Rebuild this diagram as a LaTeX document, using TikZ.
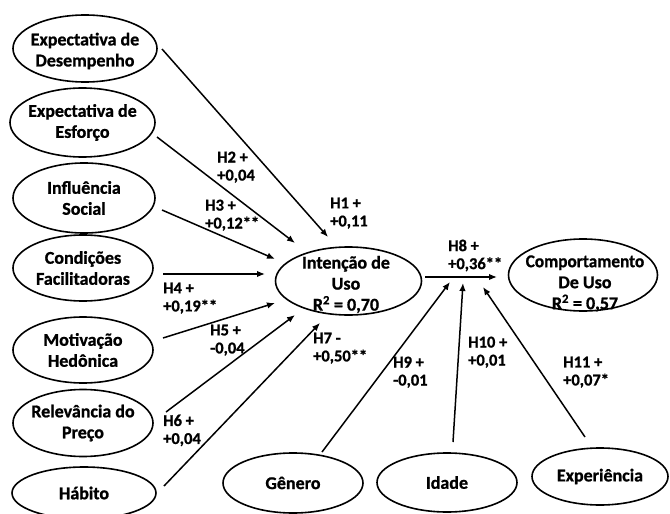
\documentclass[tikz,border=0pt]{standalone}
\usepackage{fontspec}
\setmainfont{Carlito}[BoldFeatures={FakeBold=1}]
\usetikzlibrary{arrows.meta,shapes.geometric}
\begin{document}
\begin{tikzpicture}[x=1pt,y=-1pt,
  ell/.style={draw,ellipse,line width=1.6pt,inner sep=0pt},
  etxt/.style={inner sep=0pt,align=center,font=\fontsize{18}{21}\selectfont\bfseries},
  arr/.style={line width=1.5pt,-{Latex[length=8pt,width=6.5pt]}},
  lbl/.style={anchor=north west,inner sep=0pt,align=left,font=\fontsize{16.5}{18}\selectfont\bfseries}]
\useasboundingbox (0,0) rectangle (670,514);
\fill[white] (0,0) rectangle (670,514);
% left constructs
\node[ell,minimum width=144pt,minimum height=67pt] (de) at (85,48.5) {};
\node[etxt] at (85,51) {Expectativa de\\Desempenho};
\node[ell,minimum width=145pt,minimum height=69pt] (ee) at (82.5,122.5) {};
\node[etxt] at (ee) {Expectativa de\\Esforço};
\node[ell,minimum width=142pt,minimum height=70pt] (is) at (84,198) {};
\node[etxt] at (is) {Influência\\Social};
\node[ell,minimum width=140pt,minimum height=66pt] (cf) at (83,268) {};
\node[etxt] at (cf) {Condições\\Facilitadoras};
\node[ell,minimum width=140pt,minimum height=66pt] (mh) at (83,350) {};
\node[etxt] at (mh) {Motivação\\Hedônica};
\node[ell,minimum width=140pt,minimum height=67pt] (rp) at (83,423) {};
\node[etxt] at (rp) {Relevância do\\Preço};
\node[ell,minimum width=144pt,minimum height=52pt] (hb) at (84,493) {};
\node[etxt] at (hb) {Hábito};
% central constructs
\node[ell,minimum width=146pt,minimum height=68pt] (iu) at (348.5,281) {};
\node[etxt] at (346,284.5) {Intenção de\\Uso\\R\textsuperscript{2} = 0,70};
\node[ell,minimum width=149pt,minimum height=72pt] (cu) at (583,275) {};
\node[etxt] at (585,283.5) {\scalebox{0.96}[1]{Comportamento}\\De Uso\\R\textsuperscript{2} = 0,57};
% moderators
\node[ell,minimum width=140pt,minimum height=60pt] (ge) at (293,483) {};
\node[etxt] at (ge) {Gênero};
\node[ell,minimum width=140pt,minimum height=59pt] (id) at (447,482.5) {};
\node[etxt] at (id) {Idade};
\node[ell,minimum width=136pt,minimum height=57pt] (ex) at (600,476.5) {};
\node[etxt] at (ex) {Experiência};
% arrow end points
\coordinate (h1s) at (162,49);  \coordinate (h1e) at (328,237);
\coordinate (h2s) at (157,137); \coordinate (h2e) at (295,243);
\coordinate (h3s) at (162,210); \coordinate (h3e) at (275,259);
\coordinate (h4s) at (163,274); \coordinate (h4e) at (265,274);
\coordinate (h5s) at (163,338); \coordinate (h5e) at (275,303);
\coordinate (h6s) at (166,412); \coordinate (h6e) at (295,315);
\coordinate (h7s) at (164,486); \coordinate (h7e) at (320,323);
\coordinate (h8s) at (425,277); \coordinate (h8e) at (497,277);
\coordinate (h9s) at (322,452); \coordinate (h9e) at (450,282);
\coordinate (h10s) at (453,442); \coordinate (h10e) at (463,283);
\coordinate (h11s) at (585,437); \coordinate (h11e) at (483,287);
\draw[arr] (h1s) -- (h1e);
\draw[arr] (h2s) -- (h2e);
\draw[arr] (h3s) -- (h3e);
\draw[arr] (h4s) -- (h4e);
\draw[arr] (h5s) -- (h5e);
\draw[arr] (h6s) -- (h6e);
\draw[arr] (h7s) -- (h7e);
\draw[arr] (h8s) -- (h8e);
\draw[arr] (h9s) -- (h9e);
\draw[arr] (h10s) -- (h10e);
\draw[arr] (h11s) -- (h11e);
% labels
\node[lbl] (l1) at (330,197.5) {H1 +\\+0,11};
\node[lbl] (l2) at (217,151.5) {H2 +\\+0,04};
\node[lbl] (l3) at (205,199.5) {H3 +\\+0,12**};
\node[lbl] (l4) at (163,282.5) {H4 +\\+0,19**};
\node[lbl] (l5) at (210,324.5) {H5 +\\-0,04};
\node[lbl] (l6) at (163,414.5) {H6 +\\+0,04};
\node[lbl] (l7) at (313,332.5) {H7 -\\+0,50**};
\node[lbl] (l8) at (448,239.5) {H8 +\\+0,36**};
\node[lbl] (l9) at (393,356.5) {H9 +\\-0,01};
\node[lbl] (l10) at (468,336.5) {H10 +\\+0,01};
\node[lbl] (l11) at (563,356.5) {H11 +\\+0,07*};
\end{tikzpicture}
\end{document}
